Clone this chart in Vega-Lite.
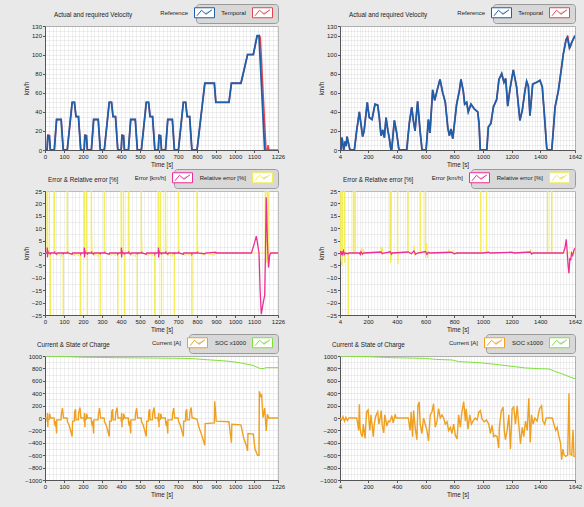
{
"$schema":"https://vega.github.io/schema/vega-lite/v6.json",
"background":"#e9e9e9",
"padding":{"left":22,"top":3,"right":6,"bottom":10},
"config":{
 "font":"Liberation Sans",
 "numberFormat":"d",
 "view":{"fill":"white","stroke":"#bdbdbd"},
 "axis":{"labelFontSize":6,"titleFontSize":6.3,"titleFontWeight":"normal","labelColor":"#222","titleColor":"#222","domainColor":"#555","tickColor":"#555","tickSize":2.5,"labelPadding":1,"titlePadding":2,"gridColor":"#000","gridOpacity":0.15,"labelOverlap":false,"labelFlush":false,"labelBound":false,"format":"d"},
 "title":{"anchor":"start","frame":"group","fontSize":6.3,"fontWeight":"normal","color":"#222","offset":0},
 "legend":{"orient":"top","direction":"horizontal","title":null,"labelFontSize":6,"labelColor":"#222","labelAlign":"right","labelOffset":-22,"symbolOffset":0,"symbolType":"M-2,-1H2V1H-2Z M-1.5,0.6L-0.6,-0.5L0.3,0.3L1.5,-0.6","symbolSize":100,"symbolStrokeWidth":1,"symbolFillColor":"white","symbolBaseFillColor":"white","fillColor":"#d8d8d8","strokeColor":"#9a9a9a","cornerRadius":3,"padding":3,"columnPadding":4,"offset":3,"layout":{"top":{"anchor":"end"}}}
},
"datasets":{
"vl_ref":[{"t":0,"v":0},{"t":11,"v":0},{"t":15,"v":15},{"t":23,"v":15},{"t":28,"v":0},{"t":49,"v":0},{"t":61,"v":32},{"t":85,"v":32},{"t":96,"v":0},{"t":117,"v":0},{"t":143,"v":50},{"t":155,"v":50},{"t":163,"v":35},{"t":176,"v":35},{"t":188,"v":0},
{"t":206,"v":0},{"t":210,"v":15},{"t":218,"v":15},{"t":223,"v":0},{"t":244,"v":0},{"t":256,"v":32},{"t":280,"v":32},{"t":291,"v":0},{"t":312,"v":0},{"t":338,"v":50},{"t":350,"v":50},{"t":358,"v":35},{"t":371,"v":35},{"t":383,"v":0},
{"t":401,"v":0},{"t":405,"v":15},{"t":413,"v":15},{"t":418,"v":0},{"t":439,"v":0},{"t":451,"v":32},{"t":475,"v":32},{"t":486,"v":0},{"t":507,"v":0},{"t":533,"v":50},{"t":545,"v":50},{"t":553,"v":35},{"t":566,"v":35},{"t":578,"v":0},
{"t":596,"v":0},{"t":600,"v":15},{"t":608,"v":15},{"t":613,"v":0},{"t":634,"v":0},{"t":646,"v":32},{"t":670,"v":32},{"t":681,"v":0},{"t":702,"v":0},{"t":728,"v":50},{"t":740,"v":50},{"t":748,"v":35},{"t":761,"v":35},{"t":773,"v":0},
{"t":800,"v":0},{"t":841,"v":70},{"t":891,"v":70},{"t":899,"v":50},{"t":968,"v":50},{"t":981,"v":70},{"t":1031,"v":70},{"t":1066,"v":100},{"t":1096,"v":100},{"t":1116,"v":120},{"t":1126,"v":120},{"t":1156,"v":0},{"t":1160,"v":0}],
"vl_tmp":[{"t":0,"v":0},{"t":11,"v":0},{"t":15,"v":16.5},{"t":17,"v":15},{"t":23,"v":15},{"t":28,"v":0},{"t":49,"v":0},{"t":61,"v":32},{"t":85,"v":32},{"t":96,"v":0},{"t":117,"v":0},{"t":143,"v":50},{"t":155,"v":50},{"t":163,"v":35},{"t":176,"v":35},{"t":188,"v":0},
{"t":206,"v":0},{"t":210,"v":16.5},{"t":212,"v":15},{"t":218,"v":15},{"t":223,"v":0},{"t":244,"v":0},{"t":256,"v":32},{"t":280,"v":32},{"t":291,"v":0},{"t":312,"v":0},{"t":338,"v":50},{"t":350,"v":50},{"t":358,"v":35},{"t":371,"v":35},{"t":383,"v":0},
{"t":401,"v":0},{"t":405,"v":16.5},{"t":407,"v":15},{"t":413,"v":15},{"t":418,"v":0},{"t":439,"v":0},{"t":451,"v":32},{"t":475,"v":32},{"t":486,"v":0},{"t":507,"v":0},{"t":533,"v":50},{"t":545,"v":50},{"t":553,"v":35},{"t":566,"v":35},{"t":578,"v":0},
{"t":596,"v":0},{"t":600,"v":16.5},{"t":602,"v":15},{"t":608,"v":15},{"t":613,"v":0},{"t":634,"v":0},{"t":646,"v":32},{"t":670,"v":32},{"t":681,"v":0},{"t":702,"v":0},{"t":728,"v":50},{"t":740,"v":50},{"t":748,"v":35},{"t":761,"v":35},{"t":773,"v":0},
{"t":800,"v":0},{"t":841,"v":70},{"t":891,"v":70},{"t":899,"v":50},{"t":968,"v":50},{"t":981,"v":70},{"t":1031,"v":70},{"t":1066,"v":100},{"t":1096,"v":100},{"t":1116,"v":119},{"t":1128,"v":120},{"t":1133,"v":118},{"t":1163,"v":0},{"t":1170,"v":0},{"t":1174,"v":5},{"t":1178,"v":0},{"t":1226,"v":0}],
"vr_ref":[{"t":4,"v":0},{"t":10,"v":0},{"t":18,"v":13},{"t":30,"v":0},{"t":40,"v":9},{"t":47,"v":4},{"t":53,"v":14},{"t":69,"v":3},{"t":74,"v":0},{"t":104,"v":0},{"t":120,"v":20},{"t":139,"v":40},{"t":151,"v":26},{"t":162,"v":14},{"t":172,"v":20},{"t":194,"v":50},{"t":208,"v":34},{"t":227,"v":32},{"t":248,"v":48},{"t":267,"v":47},{"t":278,"v":34},{"t":290,"v":15},{"t":302,"v":21},{"t":313,"v":13},{"t":325,"v":34},{"t":336,"v":22},{"t":348,"v":12},{"t":359,"v":0},{"t":364,"v":0},{"t":383,"v":31},{"t":399,"v":18},{"t":413,"v":2},{"t":418,"v":0},{"t":469,"v":0},{"t":487,"v":28},{"t":504,"v":45},{"t":515,"v":31},{"t":527,"v":20},{"t":545,"v":51},{"t":562,"v":20},{"t":576,"v":0},{"t":604,"v":0},{"t":620,"v":32},{"t":631,"v":18},{"t":650,"v":63},{"t":664,"v":52},{"t":680,"v":62},{"t":701,"v":74},{"t":720,"v":60},{"t":738,"v":50},{"t":755,"v":24},{"t":766,"v":15},{"t":778,"v":22},{"t":790,"v":12},{"t":817,"v":48},{"t":836,"v":62},{"t":847,"v":74},{"t":863,"v":62},{"t":873,"v":48},{"t":887,"v":50},{"t":898,"v":40},{"t":917,"v":48},{"t":940,"v":43},{"t":964,"v":40},{"t":973,"v":28},{"t":982,"v":0},{"t":1027,"v":0},{"t":1038,"v":24},{"t":1056,"v":28},{"t":1073,"v":45},{"t":1096,"v":53},{"t":1112,"v":74},{"t":1131,"v":80},{"t":1147,"v":71},{"t":1159,"v":75},{"t":1173,"v":46},{"t":1189,"v":64},{"t":1212,"v":84},{"t":1235,"v":66},{"t":1258,"v":31},{"t":1275,"v":42},{"t":1293,"v":62},{"t":1305,"v":72},{"t":1317,"v":67},{"t":1328,"v":36},{"t":1347,"v":69},{"t":1375,"v":71},{"t":1398,"v":73},{"t":1414,"v":66},{"t":1428,"v":38},{"t":1445,"v":2},{"t":1452,"v":0},{"t":1480,"v":0},{"t":1491,"v":21},{"t":1503,"v":45},{"t":1526,"v":62},{"t":1545,"v":83},{"t":1561,"v":101},{"t":1580,"v":116},{"t":1589,"v":118},{"t":1603,"v":107},{"t":1620,"v":113},{"t":1636,"v":118},{"t":1642,"v":120}],
"vr_tmp":[{"t":4,"v":0},{"t":10,"v":0},{"t":18,"v":13},{"t":30,"v":0},{"t":40,"v":9},{"t":47,"v":4},{"t":53,"v":14},{"t":69,"v":3},{"t":74,"v":0},{"t":104,"v":0},{"t":120,"v":20},{"t":139,"v":40},{"t":151,"v":26},{"t":162,"v":14},{"t":172,"v":20},{"t":194,"v":50},{"t":208,"v":34},{"t":227,"v":32},{"t":248,"v":48},{"t":267,"v":47},{"t":278,"v":34},{"t":290,"v":15},{"t":302,"v":21},{"t":313,"v":13},{"t":325,"v":34},{"t":336,"v":22},{"t":348,"v":12},{"t":359,"v":0},{"t":364,"v":0},{"t":383,"v":31},{"t":399,"v":18},{"t":413,"v":2},{"t":418,"v":0},{"t":469,"v":0},{"t":487,"v":28},{"t":504,"v":45},{"t":515,"v":31},{"t":527,"v":20},{"t":545,"v":51},{"t":562,"v":20},{"t":576,"v":0},{"t":604,"v":0},{"t":620,"v":32},{"t":631,"v":18},{"t":650,"v":63},{"t":664,"v":52},{"t":680,"v":62},{"t":701,"v":74},{"t":720,"v":60},{"t":738,"v":50},{"t":755,"v":24},{"t":766,"v":15},{"t":778,"v":22},{"t":790,"v":12},{"t":817,"v":48},{"t":836,"v":62},{"t":847,"v":74},{"t":863,"v":62},{"t":873,"v":48},{"t":887,"v":50},{"t":898,"v":40},{"t":917,"v":48},{"t":940,"v":43},{"t":964,"v":40},{"t":973,"v":28},{"t":982,"v":0},{"t":1027,"v":0},{"t":1038,"v":24},{"t":1056,"v":28},{"t":1073,"v":45},{"t":1096,"v":53},{"t":1112,"v":74},{"t":1131,"v":80},{"t":1147,"v":71},{"t":1159,"v":75},{"t":1173,"v":46},{"t":1189,"v":64},{"t":1212,"v":84},{"t":1235,"v":66},{"t":1258,"v":31},{"t":1275,"v":42},{"t":1293,"v":62},{"t":1305,"v":72},{"t":1317,"v":67},{"t":1328,"v":36},{"t":1347,"v":69},{"t":1375,"v":71},{"t":1398,"v":73},{"t":1414,"v":66},{"t":1428,"v":38},{"t":1445,"v":2},{"t":1452,"v":0},{"t":1480,"v":0},{"t":1491,"v":21},{"t":1503,"v":45},{"t":1526,"v":62},{"t":1545,"v":83},{"t":1561,"v":101},{"t":1578,"v":114},{"t":1591,"v":120},{"t":1600,"v":111},{"t":1610,"v":108},{"t":1620,"v":113},{"t":1636,"v":118},{"t":1642,"v":120}],
"el_err":[{"t":0,"v":0},{"t":11,"v":0},{"t":12,"v":2.2},{"t":13,"v":-1.8},{"t":15,"v":1},{"t":17,"v":0},{"t":27,"v":0},{"t":28,"v":-0.6},{"t":30,"v":0},{"t":49,"v":0},{"t":50,"v":0.6},{"t":52,"v":0},{"t":61,"v":-0.4},{"t":63,"v":0},{"t":95,"v":0},{"t":96,"v":-0.5},{"t":98,"v":0},{"t":117,"v":0},{"t":118,"v":0.5},{"t":120,"v":0},{"t":143,"v":-0.5},{"t":145,"v":0},{"t":187,"v":0},{"t":188,"v":-0.4},{"t":190,"v":0},
{"t":206,"v":0},{"t":207,"v":2.2},{"t":208,"v":-1.8},{"t":210,"v":1},{"t":212,"v":0},{"t":222,"v":0},{"t":223,"v":-0.6},{"t":225,"v":0},{"t":244,"v":0},{"t":245,"v":0.6},{"t":247,"v":0},{"t":256,"v":-0.4},{"t":258,"v":0},{"t":290,"v":0},{"t":291,"v":-0.5},{"t":293,"v":0},{"t":312,"v":0},{"t":313,"v":0.5},{"t":315,"v":0},{"t":338,"v":-0.5},{"t":340,"v":0},{"t":382,"v":0},{"t":383,"v":-0.4},{"t":385,"v":0},
{"t":401,"v":0},{"t":402,"v":2.2},{"t":403,"v":-1.8},{"t":405,"v":1},{"t":407,"v":0},{"t":417,"v":0},{"t":418,"v":-0.6},{"t":420,"v":0},{"t":439,"v":0},{"t":440,"v":0.6},{"t":442,"v":0},{"t":451,"v":-0.4},{"t":453,"v":0},{"t":485,"v":0},{"t":486,"v":-0.5},{"t":488,"v":0},{"t":507,"v":0},{"t":508,"v":0.5},{"t":510,"v":0},{"t":533,"v":-0.5},{"t":535,"v":0},{"t":577,"v":0},{"t":578,"v":-0.4},{"t":580,"v":0},
{"t":596,"v":0},{"t":597,"v":2.2},{"t":598,"v":-1.8},{"t":600,"v":1},{"t":602,"v":0},{"t":612,"v":0},{"t":613,"v":-0.6},{"t":615,"v":0},{"t":634,"v":0},{"t":635,"v":0.6},{"t":637,"v":0},{"t":646,"v":-0.4},{"t":648,"v":0},{"t":680,"v":0},{"t":681,"v":-0.5},{"t":683,"v":0},{"t":702,"v":0},{"t":703,"v":0.5},{"t":705,"v":0},{"t":728,"v":-0.5},{"t":730,"v":0},{"t":772,"v":0},{"t":773,"v":-0.4},{"t":775,"v":0},
{"t":800,"v":0},{"t":801,"v":0.5},{"t":803,"v":0},{"t":841,"v":-0.3},{"t":843,"v":0},{"t":899,"v":0.3},{"t":901,"v":0},{"t":1086,"v":0},{"t":1100,"v":3.5},{"t":1112,"v":6.8},{"t":1118,"v":4},{"t":1126,"v":0},{"t":1132,"v":-15},{"t":1138,"v":-24.7},{"t":1146,"v":-21},{"t":1156,"v":-17},{"t":1160,"v":0},{"t":1164,"v":22.5},{"t":1170,"v":5},{"t":1176,"v":-5.8},{"t":1182,"v":-1},{"t":1188,"v":0},{"t":1226,"v":0}],
"el_rel":[{"t":0,"v":0},{"t":10,"v":0},{"t":11,"v":200},{"t":12,"v":16},{"t":14,"v":3},{"t":16,"v":-1},{"t":18,"v":0},{"t":22,"v":0},{"t":23,"v":200},{"t":24,"v":0},{"t":27,"v":0},{"t":28,"v":-200},{"t":29,"v":0},{"t":48,"v":0},{"t":49,"v":200},{"t":50,"v":12},{"t":52,"v":2},{"t":54,"v":0},{"t":62,"v":-1.2},{"t":64,"v":0},{"t":86,"v":-1.5},{"t":88,"v":0},{"t":95,"v":0},{"t":96,"v":-200},{"t":97,"v":0},{"t":116,"v":0},{"t":117,"v":200},{"t":118,"v":10},{"t":120,"v":2},{"t":122,"v":0},{"t":156,"v":-1},{"t":158,"v":0},{"t":177,"v":-1.2},{"t":179,"v":0},{"t":187,"v":0},{"t":188,"v":-200},{"t":189,"v":0},
{"t":205,"v":0},{"t":206,"v":200},{"t":207,"v":16},{"t":209,"v":3},{"t":211,"v":-1},{"t":213,"v":0},{"t":217,"v":0},{"t":218,"v":200},{"t":219,"v":0},{"t":222,"v":0},{"t":223,"v":-200},{"t":224,"v":0},{"t":243,"v":0},{"t":244,"v":200},{"t":245,"v":12},{"t":247,"v":2},{"t":249,"v":0},{"t":257,"v":-1.2},{"t":259,"v":0},{"t":281,"v":-1.5},{"t":283,"v":0},{"t":290,"v":0},{"t":291,"v":-200},{"t":292,"v":0},{"t":311,"v":0},{"t":312,"v":200},{"t":313,"v":10},{"t":315,"v":2},{"t":317,"v":0},{"t":351,"v":-1},{"t":353,"v":0},{"t":372,"v":-1.2},{"t":374,"v":0},{"t":382,"v":0},{"t":383,"v":-200},{"t":384,"v":0},
{"t":400,"v":0},{"t":401,"v":200},{"t":402,"v":16},{"t":404,"v":3},{"t":406,"v":-1},{"t":408,"v":0},{"t":412,"v":0},{"t":413,"v":200},{"t":414,"v":0},{"t":417,"v":0},{"t":418,"v":-200},{"t":419,"v":0},{"t":438,"v":0},{"t":439,"v":200},{"t":440,"v":12},{"t":442,"v":2},{"t":444,"v":0},{"t":452,"v":-1.2},{"t":454,"v":0},{"t":476,"v":-1.5},{"t":478,"v":0},{"t":485,"v":0},{"t":486,"v":-200},{"t":487,"v":0},{"t":506,"v":0},{"t":507,"v":200},{"t":508,"v":10},{"t":510,"v":2},{"t":512,"v":0},{"t":546,"v":-1},{"t":548,"v":0},{"t":567,"v":-1.2},{"t":569,"v":0},{"t":577,"v":0},{"t":578,"v":-200},{"t":579,"v":0},
{"t":595,"v":0},{"t":596,"v":200},{"t":597,"v":16},{"t":599,"v":3},{"t":601,"v":-1},{"t":603,"v":0},{"t":607,"v":0},{"t":608,"v":200},{"t":609,"v":0},{"t":612,"v":0},{"t":613,"v":-200},{"t":614,"v":0},{"t":633,"v":0},{"t":634,"v":200},{"t":635,"v":12},{"t":637,"v":2},{"t":639,"v":0},{"t":647,"v":-1.2},{"t":649,"v":0},{"t":671,"v":-1.5},{"t":673,"v":0},{"t":680,"v":0},{"t":681,"v":-200},{"t":682,"v":0},{"t":701,"v":0},{"t":702,"v":200},{"t":703,"v":10},{"t":705,"v":2},{"t":707,"v":0},{"t":741,"v":-1},{"t":743,"v":0},{"t":762,"v":-1.2},{"t":764,"v":0},{"t":772,"v":0},{"t":773,"v":-200},{"t":774,"v":0},
{"t":799,"v":0},{"t":800,"v":200},{"t":802,"v":6},{"t":805,"v":0},{"t":842,"v":-0.8},{"t":844,"v":0},{"t":892,"v":-1},{"t":894,"v":0},{"t":1158,"v":0},{"t":1161,"v":200},{"t":1163,"v":-4},{"t":1170,"v":0},{"t":1175,"v":200},{"t":1177,"v":-6},{"t":1182,"v":0},{"t":1226,"v":0}],
"er_err":[{"t":4,"v":0},{"t":9,"v":0.8},{"t":12,"v":-0.8},{"t":16,"v":0.6},{"t":20,"v":-0.5},{"t":28,"v":0.8},{"t":33,"v":-0.6},{"t":40,"v":0},{"t":60,"v":-0.3},{"t":65,"v":0},{"t":140,"v":0},{"t":145,"v":-0.6},{"t":150,"v":0.5},{"t":160,"v":-0.4},{"t":170,"v":0},{"t":290,"v":0.4},{"t":300,"v":-0.3},{"t":310,"v":0},{"t":355,"v":0.5},{"t":362,"v":-0.5},{"t":368,"v":0},{"t":480,"v":0.4},{"t":500,"v":-0.3},{"t":520,"v":0.8},{"t":530,"v":-0.5},{"t":545,"v":0},{"t":600,"v":0.6},{"t":610,"v":-0.5},{"t":620,"v":0.3},{"t":630,"v":0},{"t":780,"v":0.3},{"t":800,"v":-0.3},{"t":820,"v":0},{"t":1000,"v":0},{"t":1040,"v":0.3},{"t":1050,"v":0},{"t":1200,"v":0.3},{"t":1220,"v":0},{"t":1330,"v":0.4},{"t":1340,"v":-0.4},{"t":1350,"v":0},{"t":1560,"v":0},{"t":1572,"v":2},{"t":1581,"v":5.5},{"t":1588,"v":0},{"t":1594,"v":-5},{"t":1600,"v":-8.2},{"t":1606,"v":-2},{"t":1612,"v":-3},{"t":1618,"v":0},{"t":1626,"v":-1},{"t":1634,"v":1},{"t":1642,"v":2}],
"er_rel":[{"t":4,"v":0},{"t":8,"v":0},{"t":9,"v":200},{"t":11,"v":-2},{"t":14,"v":-4},{"t":18,"v":-5},{"t":19,"v":200},{"t":21,"v":0},{"t":33,"v":0},{"t":34,"v":200},{"t":36,"v":-4},{"t":40,"v":0},{"t":60,"v":0},{"t":62,"v":-200},{"t":64,"v":-1},{"t":66,"v":0},{"t":96,"v":0},{"t":97,"v":200},{"t":99,"v":0},{"t":108,"v":0},{"t":109,"v":200},{"t":111,"v":0},{"t":150,"v":0},{"t":155,"v":2},{"t":160,"v":-1},{"t":167,"v":1.5},{"t":172,"v":0},{"t":288,"v":0},{"t":292,"v":2.5},{"t":296,"v":-0.5},{"t":300,"v":2},{"t":304,"v":0},{"t":352,"v":0},{"t":354,"v":200},{"t":356,"v":-4},{"t":359,"v":200},{"t":362,"v":-3},{"t":366,"v":0},{"t":404,"v":0},{"t":405,"v":200},{"t":407,"v":-4.5},{"t":410,"v":0},{"t":476,"v":0},{"t":477,"v":200},{"t":479,"v":0},{"t":515,"v":0},{"t":520,"v":3},{"t":525,"v":-1},{"t":528,"v":0},{"t":562,"v":0},{"t":563,"v":200},{"t":565,"v":0},{"t":597,"v":0},{"t":598,"v":200},{"t":600,"v":-2},{"t":608,"v":4},{"t":614,"v":-2},{"t":620,"v":0},{"t":758,"v":0},{"t":762,"v":1.5},{"t":766,"v":0},{"t":788,"v":0},{"t":792,"v":1},{"t":796,"v":0},{"t":984,"v":0},{"t":985,"v":200},{"t":987,"v":0},{"t":1024,"v":0},{"t":1025,"v":200},{"t":1027,"v":0},{"t":1330,"v":0},{"t":1333,"v":1.5},{"t":1336,"v":0},{"t":1450,"v":0},{"t":1451,"v":200},{"t":1453,"v":0},{"t":1478,"v":0},{"t":1479,"v":200},{"t":1481,"v":0},{"t":1642,"v":0}],
"cl_cur":[{"t":0,"v":0},{"t":10,"v":0},{"t":11,"v":-60},{"t":13,"v":80},{"t":15,"v":-150},{"t":16,"v":-30},{"t":22,"v":-20},{"t":23,"v":70},{"t":27,"v":40},{"t":28,"v":0},{"t":48,"v":0},{"t":50,"v":-80},{"t":54,"v":-130},{"t":56,"v":-50},{"t":61,"v":-250},{"t":62,"v":-30},{"t":84,"v":-30},{"t":86,"v":60},{"t":92,"v":160},{"t":96,"v":40},{"t":97,"v":0},{"t":116,"v":0},{"t":118,"v":-60},{"t":125,"v":-100},{"t":130,"v":-150},{"t":143,"v":-300},{"t":145,"v":-50},{"t":154,"v":-50},{"t":156,"v":100},{"t":161,"v":140},{"t":163,"v":-30},{"t":175,"v":-30},{"t":177,"v":80},{"t":184,"v":170},{"t":188,"v":30},{"t":189,"v":0},
{"t":195,"v":0},{"t":205,"v":0},{"t":206,"v":-60},{"t":208,"v":80},{"t":210,"v":-150},{"t":211,"v":-30},{"t":217,"v":-20},{"t":218,"v":70},{"t":222,"v":40},{"t":223,"v":0},{"t":243,"v":0},{"t":245,"v":-80},{"t":249,"v":-130},{"t":251,"v":-50},{"t":256,"v":-250},{"t":257,"v":-30},{"t":279,"v":-30},{"t":281,"v":60},{"t":287,"v":160},{"t":291,"v":40},{"t":292,"v":0},{"t":311,"v":0},{"t":313,"v":-60},{"t":320,"v":-100},{"t":325,"v":-150},{"t":338,"v":-300},{"t":340,"v":-50},{"t":349,"v":-50},{"t":351,"v":100},{"t":356,"v":140},{"t":358,"v":-30},{"t":370,"v":-30},{"t":372,"v":80},{"t":379,"v":170},{"t":383,"v":30},{"t":384,"v":0},
{"t":390,"v":0},{"t":400,"v":0},{"t":401,"v":-60},{"t":403,"v":80},{"t":405,"v":-150},{"t":406,"v":-30},{"t":412,"v":-20},{"t":413,"v":70},{"t":417,"v":40},{"t":418,"v":0},{"t":438,"v":0},{"t":440,"v":-80},{"t":444,"v":-130},{"t":446,"v":-50},{"t":451,"v":-250},{"t":452,"v":-30},{"t":474,"v":-30},{"t":476,"v":60},{"t":482,"v":160},{"t":486,"v":40},{"t":487,"v":0},{"t":506,"v":0},{"t":508,"v":-60},{"t":515,"v":-100},{"t":520,"v":-150},{"t":533,"v":-300},{"t":535,"v":-50},{"t":544,"v":-50},{"t":546,"v":100},{"t":551,"v":140},{"t":553,"v":-30},{"t":565,"v":-30},{"t":567,"v":80},{"t":574,"v":170},{"t":578,"v":30},{"t":579,"v":0},
{"t":585,"v":0},{"t":595,"v":0},{"t":596,"v":-60},{"t":598,"v":80},{"t":600,"v":-150},{"t":601,"v":-30},{"t":607,"v":-20},{"t":608,"v":70},{"t":612,"v":40},{"t":613,"v":0},{"t":633,"v":0},{"t":635,"v":-80},{"t":639,"v":-130},{"t":641,"v":-50},{"t":646,"v":-250},{"t":647,"v":-30},{"t":669,"v":-30},{"t":671,"v":60},{"t":677,"v":160},{"t":681,"v":40},{"t":682,"v":0},{"t":701,"v":0},{"t":703,"v":-60},{"t":710,"v":-100},{"t":715,"v":-150},{"t":728,"v":-300},{"t":730,"v":-50},{"t":739,"v":-50},{"t":741,"v":100},{"t":746,"v":140},{"t":748,"v":-30},{"t":760,"v":-30},{"t":762,"v":80},{"t":769,"v":170},{"t":773,"v":30},{"t":774,"v":0},
{"t":780,"v":0},{"t":800,"v":-20},{"t":810,"v":-150},{"t":825,"v":-280},{"t":841,"v":-440},{"t":843,"v":-90},{"t":891,"v":-80},{"t":893,"v":270},{"t":899,"v":40},{"t":901,"v":-50},{"t":968,"v":-60},{"t":975,"v":-250},{"t":981,"v":-400},{"t":983,"v":-100},{"t":1031,"v":-110},{"t":1045,"v":-320},{"t":1060,"v":-450},{"t":1066,"v":-530},{"t":1068,"v":-250},{"t":1096,"v":-260},{"t":1105,"v":-500},{"t":1116,"v":-580},{"t":1118,"v":-600},{"t":1126,"v":-600},{"t":1128,"v":430},{"t":1135,"v":350},{"t":1140,"v":370},{"t":1147,"v":5},{"t":1156,"v":160},{"t":1164,"v":-210},{"t":1170,"v":60},{"t":1178,"v":-5},{"t":1185,"v":0},{"t":1226,"v":0}],
"cl_soc":[{"t":0,"v":1000},{"t":114,"v":989},{"t":201,"v":980},{"t":376,"v":973},{"t":552,"v":968},{"t":727,"v":962},{"t":779,"v":957},{"t":849,"v":941},{"t":954,"v":919},{"t":1024,"v":892},{"t":1094,"v":849},{"t":1129,"v":801},{"t":1147,"v":796},{"t":1164,"v":812},{"t":1226,"v":812}],
"cr_cur":[{"t":4,"v":0},{"t":15,"v":-30},{"t":25,"v":20},{"t":35,"v":-50},{"t":45,"v":10},{"t":55,"v":-40},{"t":65,"v":0},{"t":120,"v":0},{"t":128,"v":-100},{"t":134,"v":-200},{"t":139,"v":220},{"t":144,"v":-150},{"t":150,"v":-250},{"t":160,"v":-300},{"t":166,"v":-100},{"t":172,"v":-200},{"t":179,"v":-330},{"t":185,"v":-50},{"t":190,"v":100},{"t":200,"v":130},{"t":206,"v":-50},{"t":212,"v":-200},{"t":220,"v":50},{"t":228,"v":-120},{"t":236,"v":-300},{"t":243,"v":-100},{"t":250,"v":0},{"t":258,"v":60},{"t":267,"v":100},{"t":275,"v":-100},{"t":283,"v":-20},{"t":291,"v":120},{"t":297,"v":-80},{"t":302,"v":-170},{"t":309,"v":-240},{"t":316,"v":50},{"t":323,"v":-30},{"t":330,"v":-130},{"t":341,"v":-50},{"t":350,"v":-60},{"t":358,"v":-20},{"t":365,"v":40},{"t":375,"v":-80},{"t":388,"v":60},{"t":394,"v":0},{"t":480,"v":0},{"t":486,"v":-100},{"t":493,"v":-200},{"t":500,"v":100},{"t":510,"v":-300},{"t":517,"v":120},{"t":528,"v":-150},{"t":540,"v":-350},{"t":547,"v":200},{"t":556,"v":260},{"t":563,"v":-100},{"t":575,"v":-250},{"t":586,"v":0},{"t":598,"v":-100},{"t":610,"v":-200},{"t":621,"v":-370},{"t":633,"v":50},{"t":645,"v":100},{"t":656,"v":230},{"t":668,"v":-150},{"t":680,"v":-50},{"t":691,"v":150},{"t":703,"v":0},{"t":715,"v":50},{"t":726,"v":0},{"t":738,"v":-100},{"t":750,"v":-60},{"t":761,"v":-200},{"t":773,"v":-150},{"t":784,"v":-250},{"t":796,"v":-100},{"t":808,"v":-280},{"t":820,"v":-340},{"t":831,"v":50},{"t":843,"v":-150},{"t":854,"v":100},{"t":866,"v":265},{"t":878,"v":-50},{"t":884,"v":150},{"t":896,"v":-180},{"t":908,"v":50},{"t":920,"v":-100},{"t":931,"v":-50},{"t":945,"v":0},{"t":960,"v":-30},{"t":971,"v":90},{"t":983,"v":120},{"t":994,"v":-20},{"t":1010,"v":-60},{"t":1025,"v":-30},{"t":1041,"v":-100},{"t":1052,"v":-250},{"t":1064,"v":-120},{"t":1075,"v":-300},{"t":1087,"v":-280},{"t":1099,"v":-300},{"t":1110,"v":-485},{"t":1115,"v":-150},{"t":1127,"v":100},{"t":1141,"v":175},{"t":1149,"v":-200},{"t":1157,"v":-350},{"t":1169,"v":-200},{"t":1181,"v":50},{"t":1192,"v":-500},{"t":1204,"v":150},{"t":1215,"v":180},{"t":1227,"v":-100},{"t":1239,"v":196},{"t":1250,"v":-100},{"t":1262,"v":-420},{"t":1274,"v":-150},{"t":1285,"v":-300},{"t":1297,"v":-50},{"t":1309,"v":-200},{"t":1320,"v":320},{"t":1330,"v":-394},{"t":1339,"v":50},{"t":1350,"v":-100},{"t":1362,"v":0},{"t":1378,"v":-50},{"t":1395,"v":150},{"t":1409,"v":196},{"t":1418,"v":-50},{"t":1430,"v":-100},{"t":1442,"v":0},{"t":1484,"v":0},{"t":1495,"v":-100},{"t":1507,"v":-200},{"t":1518,"v":-150},{"t":1530,"v":-300},{"t":1541,"v":-400},{"t":1549,"v":-673},{"t":1558,"v":-500},{"t":1565,"v":-592},{"t":1577,"v":-620},{"t":1591,"v":-600},{"t":1600,"v":400},{"t":1607,"v":-580},{"t":1619,"v":-600},{"t":1628,"v":-190},{"t":1635,"v":-619},{"t":1642,"v":-620}],
"cr_soc":[{"t":4,"v":1000},{"t":202,"v":989},{"t":365,"v":973},{"t":598,"v":962},{"t":668,"v":946},{"t":784,"v":936},{"t":831,"v":909},{"t":971,"v":893},{"t":1064,"v":871},{"t":1181,"v":839},{"t":1297,"v":807},{"t":1390,"v":796},{"t":1460,"v":791},{"t":1507,"v":748},{"t":1554,"v":710},{"t":1600,"v":668},{"t":1642,"v":635}]
},
"columns":2,
"bounds":"flush",
"spacing":{"row":41,"column":62},
"resolve":{"scale":{"x":"independent","y":"independent","color":"independent"},"legend":{"color":"independent"}},
"concat":[
{"width":233,"height":124,"title":{"text":"Actual and required Velocity","dx":9,"dy":19},
 "resolve":{"axis":{"x":"independent","y":"independent"}},
 "layer":[
  {"data":{"name":"vl_tmp"},"mark":{"type":"line","opacity":0,"strokeWidth":0},
   "encoding":{"x":{"field":"t","type":"quantitative","scale":{"domain":[0,1226],"nice":false,"zero":false},"axis":{"orient":"top","grid":true,"gridOpacity":0.06,"tickCount":60,"labels":false,"ticks":false,"domain":false,"title":null}},
    "y":{"field":"v","type":"quantitative","scale":{"domain":[0,130],"nice":false,"zero":false},"axis":{"orient":"right","grid":true,"gridOpacity":0.06,"tickCount":26,"labels":false,"ticks":false,"domain":false,"title":null}}}},
  {"data":{"name":"vl_tmp"},"mark":{"type":"line","strokeWidth":1.5,"clip":true},
   "encoding":{"x":{"field":"t","type":"quantitative","axis":{"values":[0,100,200,300,400,500,600,700,800,900,1000,1100,1226],"title":"Time [s]"}},
    "y":{"field":"v","type":"quantitative","axis":{"values":[0,20,40,60,80,100,120,130],"title":"km/h"}},
    "color":{"datum":"Temporal","type":"nominal","scale":{"domain":["Reference","Temporal"],"range":["#1f5ea8","#e5434d"]}}}},
  {"data":{"name":"vl_ref"},"mark":{"type":"line","strokeWidth":1.8,"clip":true},
   "encoding":{"x":{"field":"t","type":"quantitative","axis":null},"y":{"field":"v","type":"quantitative","axis":null},"color":{"datum":"Reference","type":"nominal"}}}
 ]},
{"width":235,"height":124,"title":{"text":"Actual and required Velocity","dx":9,"dy":19},
 "resolve":{"axis":{"x":"independent","y":"independent"}},
 "layer":[
  {"data":{"name":"vr_tmp"},"mark":{"type":"line","opacity":0,"strokeWidth":0},
   "encoding":{"x":{"field":"t","type":"quantitative","scale":{"domain":[4,1642],"nice":false,"zero":false},"axis":{"orient":"top","grid":true,"gridOpacity":0.06,"tickCount":80,"labels":false,"ticks":false,"domain":false,"title":null}},
    "y":{"field":"v","type":"quantitative","scale":{"domain":[0,130],"nice":false,"zero":false},"axis":{"orient":"right","grid":true,"gridOpacity":0.06,"tickCount":26,"labels":false,"ticks":false,"domain":false,"title":null}}}},
  {"data":{"name":"vr_tmp"},"mark":{"type":"line","strokeWidth":1.5,"clip":true},
   "encoding":{"x":{"field":"t","type":"quantitative","axis":{"values":[4,200,400,600,800,1000,1200,1400,1642],"title":"Time [s]"}},
    "y":{"field":"v","type":"quantitative","axis":{"values":[0,20,40,60,80,100,120,130],"title":"km/h"}},
    "color":{"datum":"Temporal","type":"nominal","scale":{"domain":["Reference","Temporal"],"range":["#1f5ea8","#e5434d"]}}}},
  {"data":{"name":"vr_ref"},"mark":{"type":"line","strokeWidth":1.8,"clip":true},
   "encoding":{"x":{"field":"t","type":"quantitative","axis":null},"y":{"field":"v","type":"quantitative","axis":null},"color":{"datum":"Reference","type":"nominal"}}}
 ]},
{"width":233,"height":124,"title":{"text":"Error & Relative error [%]","dx":3,"dy":19},
 "resolve":{"axis":{"x":"independent","y":"independent"}},
 "layer":[
  {"data":{"name":"el_err"},"mark":{"type":"line","opacity":0,"strokeWidth":0},
   "encoding":{"x":{"field":"t","type":"quantitative","scale":{"domain":[0,1226],"nice":false,"zero":false},"axis":{"orient":"top","grid":true,"gridOpacity":0.06,"tickCount":60,"labels":false,"ticks":false,"domain":false,"title":null}},
    "y":{"field":"v","type":"quantitative","scale":{"domain":[-25,25],"nice":false,"zero":false},"axis":{"orient":"right","grid":true,"gridOpacity":0.06,"values":[-22.5,-17.5,-12.5,-7.5,-2.5,2.5,7.5,12.5,17.5,22.5],"labels":false,"ticks":false,"domain":false,"title":null}}}},
  {"data":{"name":"el_rel"},"mark":{"type":"line","strokeWidth":1,"clip":true},
   "encoding":{"x":{"field":"t","type":"quantitative","axis":{"values":[0,100,200,300,400,500,600,700,800,900,1000,1100,1226],"title":"Time [s]"}},
    "y":{"field":"v","type":"quantitative","axis":{"values":[-25,-20,-15,-10,-5,0,5,10,15,20,25],"title":"km/h"}},
    "color":{"datum":"Relative error [%]","type":"nominal","scale":{"domain":["Error [km/h]","Relative error [%]"],"range":["#ec2f96","#f3ec5a"]}}}},
  {"data":{"name":"el_err"},"mark":{"type":"line","strokeWidth":1.3,"clip":true},
   "encoding":{"x":{"field":"t","type":"quantitative","axis":null},"y":{"field":"v","type":"quantitative","axis":null},"color":{"datum":"Error [km/h]","type":"nominal"}}}
 ]},
{"width":235,"height":124,"title":{"text":"Error & Relative error [%]","dx":3,"dy":19},
 "resolve":{"axis":{"x":"independent","y":"independent"}},
 "layer":[
  {"data":{"name":"er_err"},"mark":{"type":"line","opacity":0,"strokeWidth":0},
   "encoding":{"x":{"field":"t","type":"quantitative","scale":{"domain":[4,1642],"nice":false,"zero":false},"axis":{"orient":"top","grid":true,"gridOpacity":0.06,"tickCount":80,"labels":false,"ticks":false,"domain":false,"title":null}},
    "y":{"field":"v","type":"quantitative","scale":{"domain":[-25,25],"nice":false,"zero":false},"axis":{"orient":"right","grid":true,"gridOpacity":0.06,"values":[-22.5,-17.5,-12.5,-7.5,-2.5,2.5,7.5,12.5,17.5,22.5],"labels":false,"ticks":false,"domain":false,"title":null}}}},
  {"data":{"name":"er_rel"},"mark":{"type":"line","strokeWidth":1,"clip":true},
   "encoding":{"x":{"field":"t","type":"quantitative","axis":{"values":[4,200,400,600,800,1000,1200,1400,1642],"title":"Time [s]"}},
    "y":{"field":"v","type":"quantitative","axis":{"values":[-25,-20,-15,-10,-5,0,5,10,15,20,25],"title":"km/h"}},
    "color":{"datum":"Relative error [%]","type":"nominal","scale":{"domain":["Error [km/h]","Relative error [%]"],"range":["#ec2f96","#f3ec5a"]}}}},
  {"data":{"name":"er_err"},"mark":{"type":"line","strokeWidth":1.3,"clip":true},
   "encoding":{"x":{"field":"t","type":"quantitative","axis":null},"y":{"field":"v","type":"quantitative","axis":null},"color":{"datum":"Error [km/h]","type":"nominal"}}}
 ]},
{"width":233,"height":124,"title":{"text":"Current & State of Charge","dx":-8,"dy":19},
 "resolve":{"axis":{"x":"independent","y":"independent"}},
 "layer":[
  {"data":{"name":"cl_soc"},"mark":{"type":"line","opacity":0,"strokeWidth":0},
   "encoding":{"x":{"field":"t","type":"quantitative","scale":{"domain":[0,1226],"nice":false,"zero":false},"axis":{"orient":"top","grid":true,"gridOpacity":0.06,"tickCount":60,"labels":false,"ticks":false,"domain":false,"title":null}},
    "y":{"field":"v","type":"quantitative","scale":{"domain":[-1000,1000],"nice":false,"zero":false},"axis":{"orient":"right","grid":true,"gridOpacity":0.06,"tickCount":20,"labels":false,"ticks":false,"domain":false,"title":null}}}},
  {"data":{"name":"cl_soc"},"mark":{"type":"line","strokeWidth":1,"clip":true},
   "encoding":{"x":{"field":"t","type":"quantitative","axis":{"values":[0,100,200,300,400,500,600,700,800,900,1000,1100,1226],"title":"Time [s]"}},
    "y":{"field":"v","type":"quantitative","axis":{"values":[-1000,-800,-600,-400,-200,0,200,400,600,800,1000],"title":null}},
    "color":{"datum":"SOC x1000","type":"nominal","scale":{"domain":["Current [A]","SOC x1000"],"range":["#f0a020","#7fe03c"]}}}},
  {"data":{"name":"cl_cur"},"mark":{"type":"line","strokeWidth":1.4,"clip":true},
   "encoding":{"x":{"field":"t","type":"quantitative","axis":null},"y":{"field":"v","type":"quantitative","axis":null},"color":{"datum":"Current [A]","type":"nominal"}}}
 ]},
{"width":235,"height":124,"title":{"text":"Current & State of Charge","dx":-8,"dy":19},
 "resolve":{"axis":{"x":"independent","y":"independent"}},
 "layer":[
  {"data":{"name":"cr_soc"},"mark":{"type":"line","opacity":0,"strokeWidth":0},
   "encoding":{"x":{"field":"t","type":"quantitative","scale":{"domain":[4,1642],"nice":false,"zero":false},"axis":{"orient":"top","grid":true,"gridOpacity":0.06,"tickCount":80,"labels":false,"ticks":false,"domain":false,"title":null}},
    "y":{"field":"v","type":"quantitative","scale":{"domain":[-1000,1000],"nice":false,"zero":false},"axis":{"orient":"right","grid":true,"gridOpacity":0.06,"tickCount":20,"labels":false,"ticks":false,"domain":false,"title":null}}}},
  {"data":{"name":"cr_soc"},"mark":{"type":"line","strokeWidth":1,"clip":true},
   "encoding":{"x":{"field":"t","type":"quantitative","axis":{"values":[4,200,400,600,800,1000,1200,1400,1642],"title":"Time [s]"}},
    "y":{"field":"v","type":"quantitative","axis":{"values":[-1000,-800,-600,-400,-200,0,200,400,600,800,1000],"title":null}},
    "color":{"datum":"SOC x1000","type":"nominal","scale":{"domain":["Current [A]","SOC x1000"],"range":["#f0a020","#7fe03c"]}}}},
  {"data":{"name":"cr_cur"},"mark":{"type":"line","strokeWidth":1.4,"clip":true},
   "encoding":{"x":{"field":"t","type":"quantitative","axis":null},"y":{"field":"v","type":"quantitative","axis":null},"color":{"datum":"Current [A]","type":"nominal"}}}
 ]}
]
}
